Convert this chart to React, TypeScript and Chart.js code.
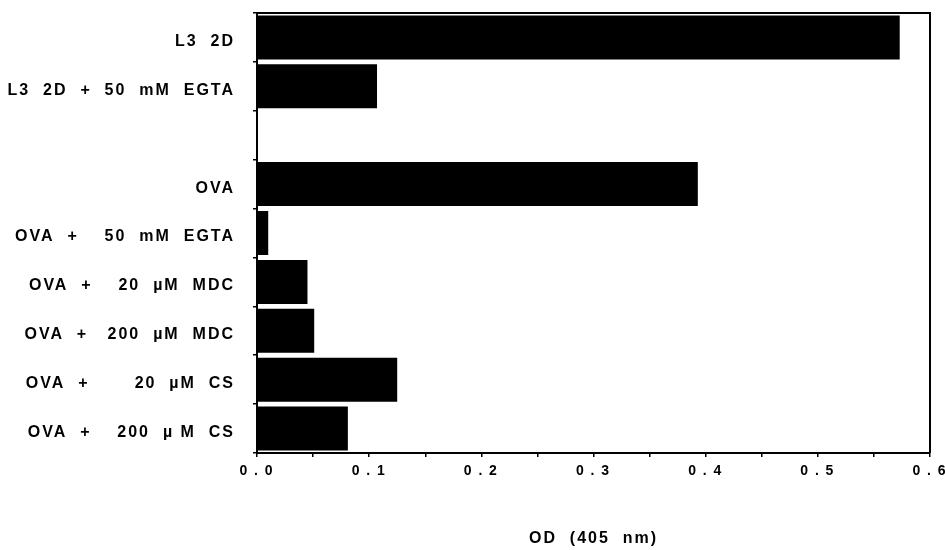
import React, { useEffect, useRef } from "react";
import { Chart, registerables } from "chart.js";

Chart.register(...registerables);

const categories = [
  "L3  2D",
  "L3  2D  +  50  mM  EGTA",
  "",
  "OVA",
  "OVA  +    50  mM  EGTA",
  "OVA  +    20  \u00b5M  MDC",
  "OVA  +   200  \u00b5M  MDC",
  "OVA  +       20  \u00b5M  CS",
  "OVA  +    200  \u00b5 M  CS",
];
const odValues = [0.573, 0.107, null, 0.393, 0.01, 0.045, 0.051, 0.125, 0.081];
const xTicks = [0, 0.05, 0.1, 0.15, 0.2, 0.25, 0.3, 0.35, 0.4, 0.45, 0.5, 0.55, 0.6];
const xLabelTicks = [0, 0.1, 0.2, 0.3, 0.4, 0.5, 0.6];
const xTitle = "OD  (405  nm)";

const framePlugin = {
  id: "frame",
  beforeDraw(chart: any) {
    chart.ctx.letterSpacing = "2px";
  },
  afterDraw(chart: any) {
    const { ctx, chartArea } = chart;
    ctx.save();
    ctx.strokeStyle = "#000";
    ctx.lineWidth = 2;
    ctx.beginPath();
    ctx.moveTo(chartArea.left, chartArea.top);
    ctx.lineTo(chartArea.right, chartArea.top);
    ctx.lineTo(chartArea.right, chartArea.bottom);
    ctx.stroke();
    ctx.restore();
  },
};

export default function App() {
  const ref = useRef<HTMLCanvasElement>(null);
  useEffect(() => {
    if (!ref.current) return;
    const chart = new Chart(ref.current, {
      type: "bar",
      data: {
        labels: categories,
        datasets: [
          {
            data: odValues as any,
            backgroundColor: "#000",
            borderWidth: 0,
            barPercentage: 0.9,
            categoryPercentage: 1,
          },
        ],
      },
      options: {
        indexAxis: "y",
        animation: false,
        responsive: true,
        maintainAspectRatio: false,
        layout: { padding: { top: 13, right: 15, left: 0, bottom: 0 } },
        plugins: { legend: { display: false }, tooltip: { enabled: false } },
        scales: {
          x: {
            type: "linear",
            min: 0,
            max: 0.6,
            afterBuildTicks(scale: any) {
              scale.ticks = xTicks.map((v) => ({ value: v }));
            },
            ticks: {
              color: "#000",
              font: { family: "Liberation Sans", weight: "bold", size: 14 },
              padding: 6,
              callback: (v: any) => {
                const n = Number(v);
                const major = xLabelTicks.some((t) => Math.abs(t - n) < 1e-9);
                return major ? n.toFixed(1).split("").join("\u2009") : "";
              },
              maxRotation: 0,
              autoSkip: false,
            },
            grid: { drawOnChartArea: false, color: "#000", tickLength: 4, lineWidth: 1.5 },
            border: { color: "#000", width: 2 },
            title: {
              display: true,
              text: xTitle,
              color: "#000",
              font: { family: "Liberation Sans", weight: "bold", size: 16 },
              padding: { top: 40, bottom: 2 },
            },
            afterFit(scale: any) {
              scale.height = 97;
              scale.paddingRight = 0;
              scale.paddingLeft = 0;
            },
          },
          y: {
            type: "category",
            ticks: {
              color: "#000",
              font: { family: "Liberation Sans", weight: "bold", size: 16 },
              padding: 18,
              labelOffset: 4,
              autoSkip: false,
            },
            grid: { drawOnChartArea: false, offset: true, color: "#000", tickLength: 4, lineWidth: 1.5 },
            border: { color: "#000", width: 2 },
            afterFit(scale: any) {
              scale.width = 257;
              scale.paddingTop = 0;
              scale.paddingBottom = 0;
            },
          },
        },
      },
      plugins: [framePlugin],
    });
    return () => chart.destroy();
  }, []);
  return (
    <div style={{ position: "fixed", left: 0, top: 0, width: 945, height: 550, background: "#fff" }}>
      <canvas ref={ref} />
    </div>
  );
}
